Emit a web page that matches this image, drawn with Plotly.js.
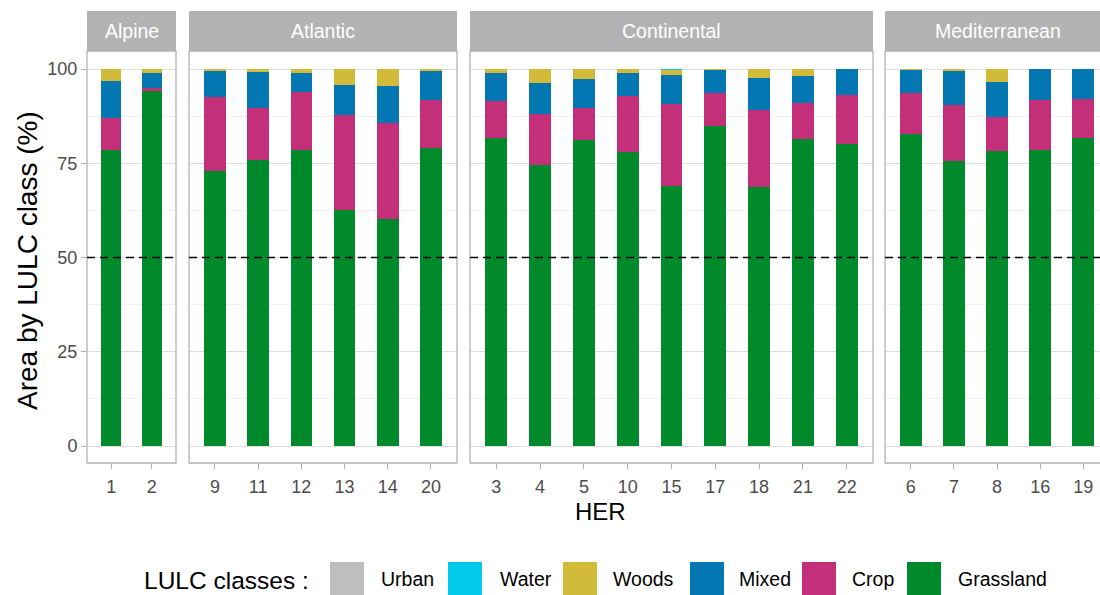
<!DOCTYPE html>
<html>
<head>
<meta charset="utf-8">
<script src="https://cdn.plot.ly/plotly-3.0.1.min.js"></script>
<style>html,body{margin:0;padding:0;background:#fff;}#chart{width:1100px;height:595px;}</style>
</head>
<body>
<div id="chart"></div>
<script>
// ---- data ----
const regions = ['Alpine', 'Atlantic', 'Continental', 'Mediterranean'];
const herCodes = ['1','2', '9','11','12','13','14','20', '3','4','5','10','15','17','18','21','22', '6','7','8','16','19'];
const herRegion = ['Alpine','Alpine',
  'Atlantic','Atlantic','Atlantic','Atlantic','Atlantic','Atlantic',
  'Continental','Continental','Continental','Continental','Continental','Continental','Continental','Continental','Continental',
  'Mediterranean','Mediterranean','Mediterranean','Mediterranean','Mediterranean'];
const grassland = [78.5, 94.3, 72.9, 76.0, 78.5, 62.6, 60.1, 79.0, 81.8, 74.5, 81.3, 78.0, 68.9, 84.8, 68.7, 81.4, 80.2, 82.8, 75.7, 78.3, 78.5, 81.8];
const crop      = [ 8.4,  0.6, 19.6, 13.6, 15.4, 25.2, 25.7, 12.7,  9.7, 13.5,  8.5, 14.8, 21.9,  8.8, 20.5,  9.5, 12.9, 10.8, 14.8,  9.1, 13.4, 10.3];
const mixed     = [ 9.9,  4.0,  7.0,  9.7,  5.0,  8.0,  9.6,  7.8,  7.5,  8.3,  7.6,  6.1,  7.6,  6.2,  8.4,  7.4,  6.8,  6.1,  8.9,  9.1,  8.0,  7.8];
const woods     = [ 3.2,  1.1,  0.5,  0.7,  1.1,  4.2,  4.6,  0.5,  1.0,  3.7,  2.6,  1.1,  1.3,  0.2,  2.4,  1.7,  0.1,  0.3,  0.6,  3.5,  0.1,  0.1];
const water     = [ 0.0,  0.0,  0.0,  0.0,  0.0,  0.0,  0.0,  0.0,  0.0,  0.0,  0.0,  0.0,  0.3,  0.0,  0.0,  0.0,  0.0,  0.0,  0.0,  0.0,  0.0,  0.0];
const urban     = [ 0.0,  0.0,  0.0,  0.0,  0.0,  0.0,  0.0,  0.0,  0.0,  0.0,  0.0,  0.0,  0.0,  0.0,  0.0,  0.0,  0.0,  0.0,  0.0,  0.0,  0.0,  0.0];
const classNames = ['Urban', 'Water', 'Woods', 'Mixed', 'Crop', 'Grassland'];
const yTicks = [0, 25, 50, 75, 100];
const threshold = 50;

// ---- styles / layout helpers ----
const classColors = {Urban:'#BEBEBE', Water:'#00C9EA', Woods:'#D2BB38', Mixed:'#0277B1', Crop:'#C42F79', Grassland:'#008A2C'};
const seriesByClass = {Urban:urban, Water:water, Woods:woods, Mixed:mixed, Crop:crop, Grassland:grassland};
const W = 1100, H = 595;
const panelPx = {Alpine:[87,176], Atlantic:[189,457], Continental:[470,873], Mediterranean:[885,1100]};
const unitPx = {Alpine:40.45, Atlantic:43.2, Continental:43.8, Mediterranean:43.1};
const panelTop = 51, panelBottom = 463, stripTop = 11;
const gridCol = '#DEDEDE', borderCol = '#B3B3B3', FONT = 'Liberation Sans, Arial, sans-serif';

const traces = [];
const layout = {
  width: W, height: H, margin: {l:0, r:0, t:0, b:0},
  paper_bgcolor: '#fff', plot_bgcolor: '#fff',
  barmode: 'stack', bargap: 0.5, showlegend: false,
  font: {family: FONT, color: '#4D4D4D'},
  shapes: [], annotations: []
};
const yDom = [(H - panelBottom) / H, (H - panelTop) / H];
const stackOrder = ['Grassland', 'Crop', 'Mixed', 'Woods', 'Water', 'Urban'];

regions.forEach((reg, i) => {
  const sfx = i === 0 ? '' : String(i + 1);
  const xa = 'x' + sfx, ya = 'y' + sfx;
  const idx = herRegion.map((r, k) => r === reg ? k : -1).filter(k => k >= 0);
  const cats = idx.map(k => herCodes[k]);
  stackOrder.forEach(cl => {
    traces.push({
      type: 'bar', x: cats, y: idx.map(k => seriesByClass[cl][k]), name: cl,
      xaxis: xa, yaxis: ya, marker: {color: classColors[cl], line: {width: 0}},
      hovertemplate: reg + ' HER %{x}<br>' + cl + ': %{y:.1f}%<extra></extra>'
    });
  });
  const px = panelPx[reg];
  const widthUnits = (px[1] - px[0]) / unitPx[reg];
  layout['xaxis' + sfx] = {
    domain: [px[0] / W, px[1] / W], anchor: ya, type: 'category',
    categoryorder: 'array', categoryarray: cats,
    range: [-0.6, -0.6 + widthUnits], showgrid: false, zeroline: false,
    ticks: 'outside', ticklen: 5, tickwidth: 1, tickcolor: borderCol, ticklabelstandoff: 2,
    tickfont: {size: 18, color: '#4D4D4D', family: FONT}, showline: false, fixedrange: true
  };
  layout['yaxis' + sfx] = {
    domain: yDom, anchor: xa, range: [-4.5, 104.8],
    tickvals: yTicks, showticklabels: i === 0,
    ticks: i === 0 ? 'outside' : '', ticklen: 5, tickwidth: 1, tickcolor: borderCol,
    tickfont: {size: 18, color: '#4D4D4D', family: FONT},
    showgrid: true, gridcolor: gridCol, gridwidth: 1, zeroline: false, showline: false,
    minor: {dtick: 12.5, tick0: 0, showgrid: true, gridcolor: '#EBEBEB', gridwidth: 0.7},
    fixedrange: true
  };
  const xr = reg === 'Mediterranean' ? (W + 3) / W : px[1] / W;
  // panel border
  layout.shapes.push({type:'rect', xref:'paper', yref:'paper', x0:px[0]/W, x1:xr,
    y0:yDom[0], y1:yDom[1], line:{color:borderCol, width:1.3}, fillcolor:'rgba(0,0,0,0)', layer:'above'});
  // strip
  layout.shapes.push({type:'rect', xref:'paper', yref:'paper', x0:px[0]/W, x1:xr,
    y0:yDom[1], y1:(H - stripTop)/H, line:{width:0}, fillcolor:borderCol, layer:'above'});
  layout.annotations.push({xref:'paper', yref:'paper', x:(px[0] + (reg==='Mediterranean'? 1110 : px[1]))/2/W,
    y:(H - (stripTop + panelTop)/2)/H, text:reg, showarrow:false, xanchor:'center', yanchor:'middle',
    font:{size:19.5, color:'#FFFFFF', family:FONT}});
  // threshold dashed line
  layout.shapes.push({type:'line', xref: xa + ' domain', yref: ya, x0:0, x1:1, y0:threshold, y1:threshold,
    line:{color:'#000', width:1.6, dash:'8px,5px'}, layer:'above'});
});

// axis titles
layout.annotations.push({xref:'paper', yref:'paper', x:600/W, y:(H-511)/H, text:'HER', showarrow:false,
  xanchor:'center', yanchor:'middle', font:{size:24, color:'#000', family:FONT}});
layout.annotations.push({xref:'paper', yref:'paper', x:27/W, y:(H-261)/H, text:'Area by LULC class (%)', showarrow:false,
  textangle:-90, xanchor:'center', yanchor:'middle', font:{size:28, color:'#000', family:FONT}});

// custom legend
const legSwatchX = [330, 448, 563, 690, 802, 907];
const legTextX = [379, 498, 611, 737, 850, 956];
layout.annotations.push({xref:'paper', yref:'paper', x:142/W, y:(H-580)/H, text:'LULC classes :', showarrow:false,
  xanchor:'left', yanchor:'middle', font:{size:24.5, color:'#000', family:FONT}});
classNames.forEach((cl, k) => {
  layout.shapes.push({type:'rect', xref:'paper', yref:'paper', x0:legSwatchX[k]/W, x1:(legSwatchX[k]+34)/W,
    y0:(H-597)/H, y1:(H-562)/H, line:{width:0}, fillcolor:classColors[cl]});
  layout.annotations.push({xref:'paper', yref:'paper', x:legTextX[k]/W, y:(H-579)/H, text:cl, showarrow:false,
    xanchor:'left', yanchor:'middle', font:{size:19.5, color:'#000', family:FONT}});
});

Plotly.newPlot('chart', traces, layout, {displayModeBar:false, staticPlot:true});
</script>
</body>
</html>
